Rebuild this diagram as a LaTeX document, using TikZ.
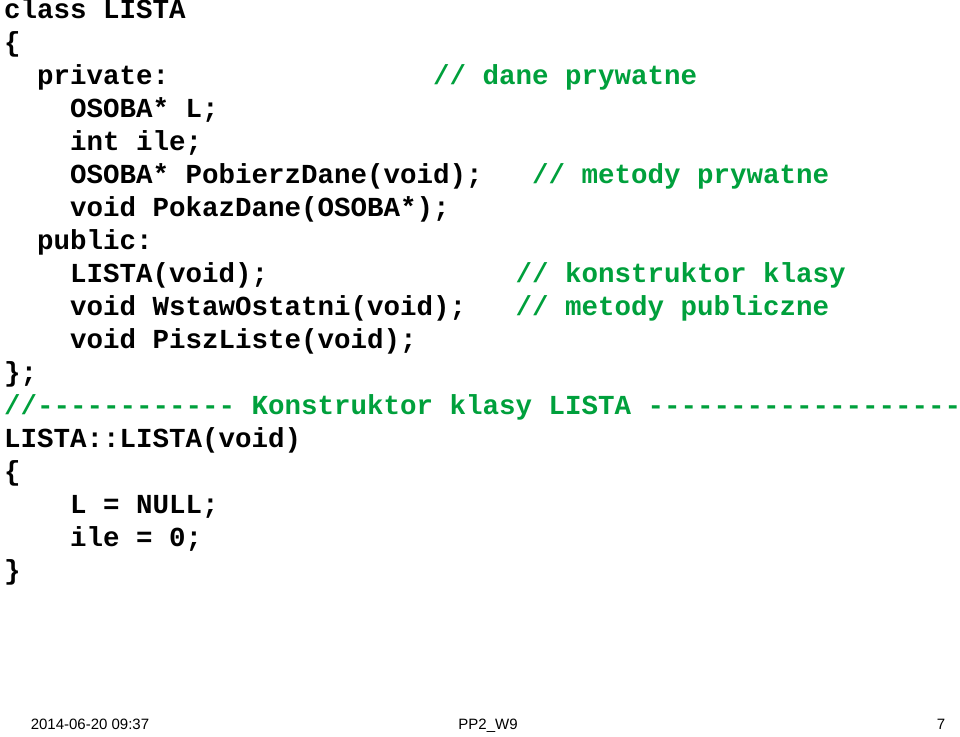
\documentclass[tikz,border=0pt]{standalone}
\usepackage{fontspec}
\setmonofont{Liberation Mono}
\setsansfont{Liberation Sans}
\usetikzlibrary{positioning}
\definecolor{commentcolor}{RGB}{0,160,60}
\tikzset{
  codeline/.style={anchor=mid west, inner sep=0pt, font=\ttfamily\bfseries\fontsize{27.5}{30}\selectfont},
  comment/.style={codeline, text=commentcolor},
  footer/.style={anchor=mid, inner sep=0pt, font=\sffamily\fontsize{15}{17}\selectfont}
}
\begin{document}
\begin{tikzpicture}[x=1pt, y=1pt]
\useasboundingbox (0,0) rectangle (960,-736);

% class declaration
\node[codeline] (l0) at (4+16.5*0, -16-33*0) {class LISTA};
\node[codeline] (l1) at (4+16.5*0, -16-33*1) {\{};
\node[codeline] (l2) at (4+16.5*2, -16-33*2) {private:};
\node[comment] (c2) at (4+16.5*26, -16-33*2) {// dane prywatne};
\node[codeline] (l3) at (4+16.5*4, -16-33*3) {OSOBA* L;};
\node[codeline] (l4) at (4+16.5*4, -16-33*4) {int ile;};
\node[codeline] (l5) at (4+16.5*4, -16-33*5) {OSOBA* PobierzDane(void);};
\node[comment] (c5) at (4+16.5*32, -16-33*5) {// metody prywatne};
\node[codeline] (l6) at (4+16.5*4, -16-33*6) {void PokazDane(OSOBA*);};
\node[codeline] (l7) at (4+16.5*2, -16-33*7) {public:};
\node[codeline] (l8) at (4+16.5*4, -16-33*8) {LISTA(void);};
\node[comment] (c8) at (4+16.5*31, -16-33*8) {// konstruktor klasy};
\node[codeline] (l9) at (4+16.5*4, -16-33*9) {void WstawOstatni(void);};
\node[comment] (c9) at (4+16.5*31, -16-33*9) {// metody publiczne};
\node[codeline] (l10) at (4+16.5*4, -16-33*10) {void PiszListe(void);};
\node[codeline] (l11) at (4+16.5*0, -16-33*11) {\};};

% constructor
\node[comment] (c12) at (4+16.5*0, -16-33*12) {//------------ Konstruktor klasy LISTA -------------------};
\node[codeline] (l13) at (4+16.5*0, -16-33*13) {LISTA::LISTA(void)};
\node[codeline] (l14) at (4+16.5*0, -16-33*14) {\{};
\node[codeline] (l15) at (4+16.5*4, -16-33*15) {L = NULL;};
\node[codeline] (l16) at (4+16.5*4, -16-33*16) {ile = 0;};
\node[codeline] (l17) at (4+16.5*0, -16-33*17) {\}};

% footer
\node[footer] (date) at (90,-727) {2014-06-20 09:37};
\node[footer] (title) at (488,-727) {PP2\_W9};
\node[footer] (page) at (941,-727) {7};
\end{tikzpicture}
\end{document}
